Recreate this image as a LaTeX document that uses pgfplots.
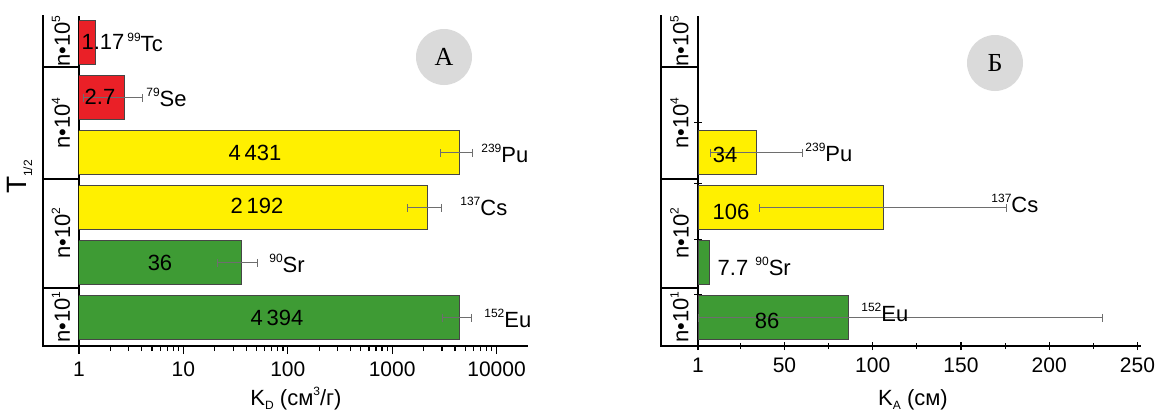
\documentclass[border=0pt]{standalone}
\usepackage{pgfplots}
\pgfplotsset{compat=1.18}
\usepackage{fontspec}
\setmainfont{Liberation Sans}
\newfontfamily\serifcyr{Liberation Serif}
\definecolor{cred}{RGB}{234,32,39}
\definecolor{cyel}{RGB}{255,240,0}
\definecolor{cgrn}{RGB}{62,155,52}
\definecolor{cedge}{RGB}{70,70,70}
\definecolor{cerr}{RGB}{110,110,110}
\definecolor{ccirc}{RGB}{218,218,218}
\newcommand{\sups}[1]{\raisebox{0.85ex}{\fontsize{6}{7}\selectfont #1}}
\newcommand{\subs}[1]{\raisebox{-0.35ex}{\fontsize{6}{7}\selectfont #1}}
\begin{document}
\fontsize{11}{13}\selectfont
\begin{tikzpicture}
\useasboundingbox (0,0) rectangle (579pt,-209pt);
\pgfplotsset{
  mybar/.style={xbar, bar shift=0pt, bar width=22pt, draw=cedge, line width=0.5pt},
  myerr/.style={error bars/.cd, x dir=both, x explicit,
     error bar style={line width=0.5pt, color=cerr},
     error mark options={rotate=90, mark size=2pt, line width=0.5pt, color=cerr}},
  common/.style={scale only axis, height=165pt, ymin=-0.51, ymax=5.49,
     axis x line*=bottom, axis y line*=left,
     axis line style={line width=0.8pt},
     every tick/.style={black, line width=0.6pt},
     /pgf/number format/assume math mode=true,
     ticklabel style={font=\fontsize{10.5}{13}\selectfont}}
}
\begin{axis}[common, at={(39.5pt,-173pt)}, anchor=south west, width=224.5pt,
  xmode=log, xmin=1, xmax=20000,
  xtick={1,10,100,1000,10000}, xticklabels={1,10,100,1000,10000},
  ytick=\empty, tick align=outside, major tick length=4pt, minor tick length=2.5pt]
\addplot[mybar, fill=cred] coordinates {(1.45,5)};
\addplot[mybar, fill=cred, myerr] coordinates {(2.7,4) += (1.4,0) -= (1.6,0)};
\addplot[mybar, fill=cyel, myerr] coordinates {(4431,3) +- (1500,0) (2192,2) +- (790,0)};
\addplot[mybar, fill=cgrn, myerr] coordinates {(36,1) +- (15,0) (4394,0) +- (1350,0)};
\end{axis}
\begin{axis}[common, at={(349pt,-173pt)}, anchor=south west, width=221.5pt,
  xmin=1, xmax=252,
  xtick={1,50,100,150,200,250}, minor xtick={25,75,125,175,225},
  ytick={0.42,1.42,2.45,3.55}, yticklabels={},
  tick align=center, major tick length=4pt, minor tick length=3pt]
\addplot[mybar, fill=cyel, myerr] coordinates {(34,3) +- (26,0) (106,2) +- (70,0)};
\addplot[mybar, fill=cgrn] coordinates {(7.7,1)};
\addplot[mybar, fill=cgrn, myerr] coordinates {(86,0) += (144,0) -= (85,0)};
\end{axis}
\begin{scope}[x=0.5pt,y=-0.5pt]
\foreach \X/\R in {43/79,661/698}{
  \draw[line width=0.8pt] (\X,15) -- (\X,346) -- (\R,346);
  \draw[line width=0.8pt] (\X,67) -- (\R,67);
  \draw[line width=0.8pt] (\X,179) -- (\R,179);
  \draw[line width=0.8pt] (\X,288) -- (\R,288);
  \pgfmathsetmacro{\C}{(\X+\R)/2}
  \node[rotate=90] at (\C,41) {n•10\sups{5}};
  \node[rotate=90] at (\C,123) {n•10\sups{4}};
  \node[rotate=90] at (\C,233) {n•10\sups{2}};
  \node[rotate=90] at (\C,317) {n•10\sups{1}};
}
\node[rotate=90, font=\fontsize{14}{16}\selectfont] at (20,177) {T\subs{1/2}};
% circles
\fill[ccirc] (444,57) circle (14pt);
\node[font=\serifcyr\fontsize{13}{15}\selectfont] at (444,57) {А};
\fill[ccirc] (995,63) circle (14pt);
\node[font=\serifcyr\fontsize{13}{15}\selectfont] at (995,63) {Б};
% left labels
\node at (103,42) {1.17};
\node[anchor=west, inner sep=0pt] at (127,42) {\sups{99}Tc};
\node at (100,97) {2.7};
\node[anchor=west, inner sep=0pt] at (146,97) {\sups{79}Se};
\node at (255,153) {4\,431};
\node[anchor=west, inner sep=0pt] at (481,153) {\sups{239}Pu};
\node at (257,206) {2\,192};
\node[anchor=west, inner sep=0pt] at (460,206) {\sups{137}Cs};
\node at (160,263) {36};
\node[anchor=west, inner sep=0pt] at (269,263) {\sups{90}Sr};
\node at (277,318) {4\,394};
\node[anchor=west, inner sep=0pt] at (484,318) {\sups{152}Eu};
% right labels
\node at (725,155) {34};
\node[anchor=west, inner sep=0pt] at (805,152) {\sups{239}Pu};
\node at (731,212) {106};
\node[anchor=west, inner sep=0pt] at (991,203) {\sups{137}Cs};
\node at (733,268) {7.7};
\node[anchor=west, inner sep=0pt] at (755,266) {\sups{90}Sr};
\node at (767,321) {86};
\node[anchor=west, inner sep=0pt] at (861,312) {\sups{152}Eu};
% axis labels
\node at (296,399) {K\subs{D} (см\sups{3}/г)};
\node at (913,400) {K\subs{A} (см)};
\end{scope}
\end{tikzpicture}
\end{document}
